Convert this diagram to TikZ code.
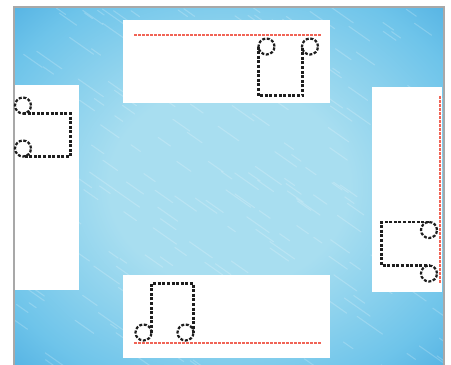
\documentclass[tikz,border=0pt]{standalone}
\usetikzlibrary{positioning}
\definecolor{bgLight}{RGB}{168,222,240}
\definecolor{bgMid}{RGB}{110,196,234}
\definecolor{bgDark}{RGB}{52,156,218}
\definecolor{frameGray}{RGB}{168,168,168}
\definecolor{guideRed}{RGB}{240,100,86}
\definecolor{noteInk}{RGB}{30,30,30}
\pgfdeclareradialshading{bgglow}{\pgfpoint{0bp}{0bp}}{color(0bp)=(bgLight); color(14bp)=(bgLight); color(30bp)=(bgMid); color(44bp)=(bgDark); color(50bp)=(bgDark)}

\begin{document}
\begin{tikzpicture}[
  x=1pt,y=-1pt,
  panel/.style={fill=white,draw=none,inner sep=0pt,outer sep=0pt},
  widepanel/.style={panel,minimum width=207pt,minimum height=83pt},
  tallpanel/.style={panel,minimum width=70pt,minimum height=205pt},
  guidedash/.style={fill=guideRed},
  notepath/.style={draw=noteInk,line width=2.2pt,dash pattern=on 3pt off 1.6pt},
  streak/.style={white,line width=1.1pt,opacity=0.2,line cap=round},
]
\useasboundingbox (0,0) rectangle (451,365);

% background
\fill[shading=bgglow] (14,7) rectangle (444,365);
\begin{scope}
  \clip (14,7) rectangle (444,365);
  \pgfmathsetseed{11}
  \foreach \i in {1,...,260}{
    \pgfmathsetmacro{\sx}{14+430*rnd}
    \pgfmathsetmacro{\sy}{7+358*rnd}
    \pgfmathsetmacro{\sl}{8+24*rnd}
    \draw[streak] (\sx,\sy) -- ++(35:\sl);
  }
\end{scope}

% panels
\node[widepanel] (topPanel) at (226.5,61.5) {};
\node[widepanel] (bottomPanel) at (226,316) {};
\node[tallpanel] (leftPanel) at (44,187) {};
\node[tallpanel] (rightPanel) at (407.3,189.3) {};

% frame
\draw[frameGray,line width=1.2pt] (14,365) -- (14,7) -- (444,7) -- (444,365);

% guide lines
\foreach \gx in {134,138,...,318}{
  \fill[guidedash] (\gx,34) rectangle ++(2.6,2);
  \fill[guidedash] (\gx,342) rectangle ++(2.6,2);
}
\foreach \gy in {96,100,...,280}
  \fill[guidedash] (439.4,\gy) rectangle ++(1.6,2.6);

% top note
\draw[notepath] (266.5,46.5) circle (8pt);
\draw[notepath] (310,46.5) circle (8pt);
\draw[notepath] (258.5,46.5) -- (258.5,95.5) -- (302.5,95.5) -- (302.5,46.5);

% bottom note
\draw[notepath] (143.5,332.5) circle (8pt);
\draw[notepath] (185.5,332.5) circle (8pt);
\draw[notepath] (151.5,332.5) -- (151.5,283.5) -- (193.5,283.5) -- (193.5,332.5);

% left note
\draw[notepath] (23,105.5) circle (8pt);
\draw[notepath] (23,148.5) circle (8pt);
\draw[notepath] (23,113.5) -- (70.5,113.5) -- (70.5,156.5) -- (23,156.5);

% right note
\draw[notepath] (429,230) circle (8pt);
\draw[notepath] (429,273.5) circle (8pt);
\draw[notepath] (429,222) -- (381.5,222) -- (381.5,265.5) -- (429,265.5);
\end{tikzpicture}
\end{document}
